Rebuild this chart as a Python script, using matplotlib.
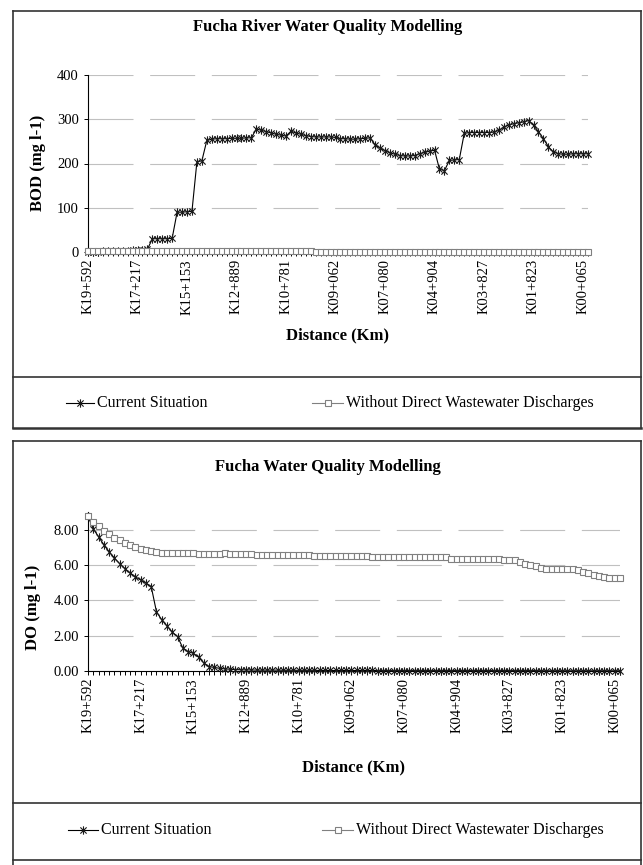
import numpy as np
import matplotlib.pyplot as plt
from matplotlib.lines import Line2D
from matplotlib.path import Path
from matplotlib.ticker import FixedLocator, MultipleLocator, FormatStrFormatter

plt.rcParams['font.family'] = ['Liberation Serif', 'DejaVu Serif']
plt.rcParams['lines.scale_dashes'] = False

# labels shown every 10th station along the river
tick_labels = ['K19+592', 'K17+217', 'K15+153', 'K12+889', 'K10+781', 'K09+062',
               'K07+080', 'K04+904', 'K03+827', 'K01+823', 'K00+065']
tick_every = 10

bod_current = [1, 1, 1, 2, 2, 2, 3, 3, 3, 4, 4, 5, 6,
               30, 30, 30, 30, 31,
               90, 90, 91, 92,
               204, 206,
               252, 255, 256, 256, 256, 257, 257, 257, 258, 258,
               278, 275, 272, 269, 266, 264, 262,
               273, 269, 266, 263, 261, 260, 260, 260, 260, 259,
               256, 256, 255, 255, 256, 257, 258,
               242, 235, 229, 224, 221, 218, 217, 217, 218, 222, 225, 228, 230,
               187, 184, 207, 208, 209,
               268, 270, 270, 270, 270, 270, 271,
               275, 282, 287, 290, 292, 294, 297,
               286, 272, 256, 238, 226, 222,
               221, 221, 222, 222, 222, 222]

bod_without = [2.5, 2.4, 2.3, 2.2, 2.1, 2.0, 2.0, 1.9, 1.9, 1.8, 1.8, 1.8, 1.7,
               1.7, 1.7, 1.6, 1.6, 1.6, 1.6, 1.5, 1.5, 1.5, 1.5, 1.5, 1.5, 1.4,
               1.4, 1.4, 1.4, 1.4, 1.4, 1.3, 1.3, 1.3, 1.3, 1.3, 1.3, 1.3, 1.2,
               1.2, 1.2, 1.2, 1.2, 1.2, 1.2, 1.2, 1.1, 1.1, 1.1, 1.1, 1.1, 1.1,
               1.1, 1.1, 1.1, 1.0, 1.0, 1.0, 1.0, 1.0, 1.0, 1.0, 1.0, 1.0, 1.0,
               1.0, 1.0, 1.0, 1.0, 1.0, 1.0, 1.0, 1.0, 1.0, 1.0, 1.0, 1.0, 1.0,
               1.0, 1.0, 1.0, 1.0, 1.0, 1.0, 1.0, 1.0, 1.0, 1.0, 1.0, 1.0, 1.0,
               1.0, 1.0, 1.0, 1.0, 1.0, 1.0, 1.0, 1.0, 1.0, 1.0, 1.0]

do_current = [8.75, 8.05, 7.60, 7.15, 6.75, 6.40, 6.08, 5.80, 5.55, 5.33, 5.15, 4.98, 4.78,
              3.35, 2.90, 2.55, 2.20, 1.95,
              1.30, 1.10, 1.00, 0.78,
              0.45, 0.25, 0.20, 0.15, 0.12, 0.10, 0.08, 0.07, 0.06, 0.06,
              0.05, 0.05, 0.05, 0.05, 0.05, 0.04, 0.04, 0.04, 0.04, 0.04,
              0.04, 0.04, 0.03, 0.03, 0.03, 0.03, 0.03, 0.03, 0.03, 0.03,
              0.03, 0.03, 0.03, 0.02, 0.02, 0.02, 0.02, 0.02, 0.02, 0.02,
              0.02, 0.02, 0.02, 0.02, 0.02, 0.02, 0.02, 0.02, 0.02, 0.02,
              0.02, 0.02, 0.02, 0.02, 0.02, 0.02, 0.02, 0.02, 0.02, 0.02,
              0.02, 0.02, 0.02, 0.02, 0.01, 0.01, 0.01, 0.01, 0.01, 0.01,
              0.01, 0.01, 0.01, 0.01, 0.01, 0.01, 0.01, 0.01, 0.01, 0.01]

do_without = [8.75, 8.42, 8.20, 7.95, 7.75, 7.55, 7.40, 7.27, 7.12, 7.00, 6.92, 6.86, 6.80, 6.75,
              6.69, 6.68, 6.68, 6.68, 6.67, 6.67, 6.66,
              6.62, 6.62, 6.62, 6.62, 6.62,
              6.68,
              6.63, 6.63, 6.63, 6.63, 6.63,
              6.56, 6.56, 6.56, 6.56, 6.56, 6.56, 6.56, 6.56, 6.56, 6.56, 6.56,
              6.49, 6.49, 6.49, 6.49, 6.49, 6.49, 6.49, 6.49, 6.49, 6.49, 6.49,
              6.43, 6.43, 6.43, 6.43, 6.43, 6.43, 6.43, 6.43, 6.43, 6.43, 6.43, 6.43, 6.43, 6.43, 6.43,
              6.36, 6.36, 6.36, 6.36, 6.36, 6.36, 6.36, 6.36, 6.36, 6.36,
              6.30, 6.30, 6.30,
              6.16, 6.08, 6.02, 5.93, 5.85, 5.80,
              5.77, 5.77, 5.77, 5.77, 5.77,
              5.72, 5.63, 5.52, 5.42, 5.35, 5.30,
              5.27, 5.27, 5.27]

W, H = 643, 865
fig = plt.figure(figsize=(W / 100, H / 100), dpi=100)


def fx(x):
    return x / W


def fy(y):
    return 1 - y / H


# excel style star: an x with a vertical bar through it
star = Path([(0, -1), (0, 1), (-0.75, -0.75), (0.75, 0.75), (-0.75, 0.75), (0.75, -0.75)],
            [Path.MOVETO, Path.LINETO, Path.MOVETO, Path.LINETO, Path.MOVETO, Path.LINETO])

cur_style = dict(color='black', lw=0.8, marker=star, ms=6, mec='#1a1a1a', mew=0.8)
wo_style = dict(color='#808080', lw=0.8, marker='s', ms=4.2, mfc='white', mec='#808080', mew=0.8)


def draw_panel(box, cur, wo, ylim, ystep, fmt, ylabel, ylab_x, ylab_y, xlab_y):
    left, top, right, bottom = box
    ax = fig.add_axes([fx(left), fy(bottom), fx(right) - fx(left), fy(top) - fy(bottom)])
    x = np.arange(len(cur))
    ax.plot(x, cur, zorder=3, clip_on=False, **cur_style)
    ax.plot(x, wo, zorder=4, clip_on=False, **wo_style)
    ax.set_xlim(0, len(cur) - 1)
    ax.set_ylim(*ylim)
    ax.yaxis.set_major_locator(MultipleLocator(ystep))
    ax.yaxis.set_major_formatter(FormatStrFormatter(fmt))
    ax.xaxis.set_major_locator(FixedLocator(np.arange(0, len(cur), tick_every)[:len(tick_labels)]))
    ax.xaxis.set_minor_locator(MultipleLocator(1))
    ax.set_xticklabels(tick_labels, rotation=90, fontsize=10.5)
    ax.tick_params(axis='x', which='both', direction='out', length=3, width=0.7, pad=2)
    ax.tick_params(axis='y', direction='out', length=3, width=0.7, pad=3.5, labelsize=10.5)
    for s in ['top', 'right']:
        ax.spines[s].set_visible(False)
    for s in ['left', 'bottom']:
        ax.spines[s].set_linewidth(0.8)
    ax.yaxis.grid(True, color='#c0c0c0', lw=0.8, linestyle=(0, (32.4, 12)))
    ax.set_axisbelow(True)
    fig.text(fx(ylab_x), fy(ylab_y), ylabel, rotation=90, ha='center', va='center',
             fontsize=12, fontweight='bold')
    fig.text(fx((left + right) / 2), fy(xlab_y), 'Distance (Km)', ha='center', va='center',
             fontsize=12, fontweight='bold')
    return ax


def line(x0, y0, x1, y1, **kw):
    fig.add_artist(Line2D([fx(x0), fx(x1)], [fy(y0), fy(y1)], transform=fig.transFigure, **kw))


def legend_item(x0, x1, y, text, style):
    fig.add_artist(Line2D([fx(x0), fx(x1)], [fy(y), fy(y)], transform=fig.transFigure,
                          color=style['color'], lw=style['lw']))
    fig.add_artist(Line2D([fx((x0 + x1) / 2)], [fy(y)], transform=fig.transFigure, ls='none',
                          marker=style['marker'], ms=style['ms'], mec=style['mec'],
                          mew=style['mew'], mfc=style.get('mfc', 'none')))
    fig.text(fx(x1 + 3), fy(y), text, ha='left', va='center', fontsize=11.5)


border = dict(color='#333333', lw=1.2)

# top panel frame
line(13, 11, 641, 11, **border)
line(13, 11, 13, 428, **border)
line(641, 11, 641, 428, **border)
line(13, 428, 641, 428, color='#333333', lw=1.8)
line(13, 377, 641, 377, **border)
fig.text(fx(328), fy(27), 'Fucha River Water Quality Modelling', ha='center', va='center',
         fontsize=12, fontweight='bold')

draw_panel((88, 75, 588, 252), bod_current, bod_without, (0, 400), 100, '%d',
           'BOD (mg l-1)', 38, 163, 335)
legend_item(66, 94, 403, 'Current Situation', cur_style)
legend_item(312, 343, 403, 'Without Direct Wastewater Discharges', wo_style)

# bottom panel frame
line(13, 441, 641, 441, **border)
line(13, 441, 13, 865, **border)
line(641, 441, 641, 865, **border)
line(13, 803, 641, 803, **border)
line(13, 860, 641, 860, **border)
fig.text(fx(328), fy(467), 'Fucha Water Quality Modelling', ha='center', va='center',
         fontsize=12, fontweight='bold')

draw_panel((88, 512, 620, 671), do_current, do_without, (0, 9), 2, '%.2f',
           'DO (mg l-1)', 33, 607, 767)
legend_item(68, 98, 830, 'Current Situation', cur_style)
legend_item(322, 353, 830, 'Without Direct Wastewater Discharges', wo_style)

fig.savefig('out.png', dpi=100)
